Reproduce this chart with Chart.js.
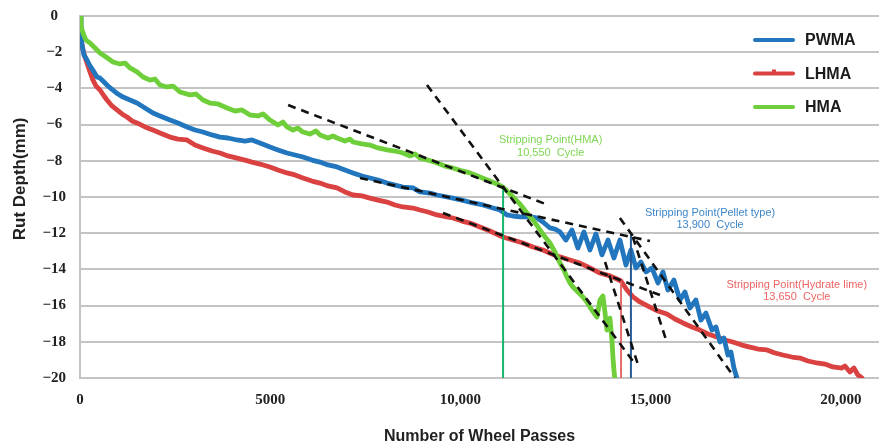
<!DOCTYPE html>
<html><head><meta charset="utf-8">
<script src="https://cdn.jsdelivr.net/npm/chart.js@4.4.1/dist/chart.umd.min.js"></script>
<style>html,body{margin:0;padding:0;background:#fff;}canvas{display:block;}</style>
</head><body>
<canvas id="c" width="881" height="448"></canvas>
<script>
// ---------- data ----------
const seriesNames = ['PWMA', 'LHMA', 'HMA'];
const xTickValues = [0, 5000, 10000, 15000, 20000];
const xTickLabels = ['0', '5000', '10,000', '15,000', '20,000'];
const yTickValues = [0, -2, -4, -6, -8, -10, -12, -14, -16, -18, -20];
const yTickLabels = ['0', '\u22122', '\u22124', '\u22126', '\u22128', '\u221210', '\u221212', '\u221214', '\u221216', '\u221218', '\u221220'];
const xTitle = 'Number of Wheel Passes';
const yTitle = 'Rut Depth(mm)';

const pwmaX = [0,26,53,105,184,263,368,447,526,631,736,867,999,1130,1314,1498,1708,1918,2102,2365,2575,2812,3022,3232,3469,3679,3889,4126,4336,4520,4730,4993,5203,5440,5650,5860,6097,6307,6517,6754,6964,7174,7411,7621,7831,8068,8278,8488,8751,8935,9198,9382,9645,9802,10039,10328,10591,10854,11038,11222,11379,11563,11826,12010,12168,12352,12483,12614,12772,12930,13087,13245,13403,13560,13718,13876,14033,14191,14349,14480,14611,14743,14875,15032,15190,15321,15453,15610,15768,15899,16031,16188,16320,16451,16609,16714,16819,16924,17029,17108,17187,17266];
const pwmaY = [-0.05,-1.05,-1.60,-2.15,-2.43,-2.76,-3.09,-3.37,-3.43,-3.65,-3.87,-4.09,-4.31,-4.48,-4.64,-4.81,-5.08,-5.36,-5.52,-5.75,-5.91,-6.13,-6.30,-6.41,-6.57,-6.69,-6.74,-6.85,-6.91,-6.85,-7.02,-7.24,-7.40,-7.57,-7.68,-7.79,-7.96,-8.07,-8.23,-8.34,-8.51,-8.67,-8.84,-8.95,-9.06,-9.23,-9.34,-9.45,-9.50,-9.72,-9.78,-9.89,-10.00,-10.06,-10.17,-10.33,-10.44,-10.61,-10.72,-10.99,-11.05,-11.10,-11.10,-11.16,-11.38,-11.71,-11.77,-11.93,-12.38,-11.82,-12.82,-11.93,-12.93,-12.04,-13.20,-12.38,-13.37,-12.38,-13.76,-12.93,-13.92,-13.59,-14.14,-13.92,-14.75,-14.14,-15.14,-14.59,-15.69,-15.25,-16.13,-15.69,-16.80,-16.41,-17.35,-17.18,-18.01,-17.79,-18.73,-18.56,-19.45,-20.00];

const lhmaX = [0,13,26,79,131,184,263,342,420,526,631,710,841,972,1104,1235,1367,1498,1708,1918,2102,2365,2575,2812,3022,3232,3469,3679,3889,4126,4336,4520,4730,4993,5203,5440,5650,5860,6097,6307,6517,6754,6964,7174,7411,7621,7831,8068,8278,8488,8751,8935,9145,9382,9645,9802,10039,10249,10512,10775,11116,11379,11642,11905,12168,12404,12614,12877,13140,13403,13666,13928,14112,14217,14375,14533,14717,14980,15190,15426,15637,15847,16084,16294,16504,16740,16951,17161,17397,17608,17818,18054,18265,18475,18711,18922,19132,19368,19579,19789,20026,20104,20236,20341,20446,20551];
const lhmaY = [-0.05,-0.77,-1.22,-1.88,-2.27,-2.60,-3.09,-3.54,-3.87,-4.09,-4.42,-4.64,-4.97,-5.19,-5.41,-5.58,-5.80,-5.91,-6.13,-6.30,-6.46,-6.69,-6.80,-6.85,-7.13,-7.29,-7.46,-7.57,-7.73,-7.85,-7.96,-8.07,-8.18,-8.34,-8.51,-8.67,-8.78,-8.95,-9.12,-9.23,-9.39,-9.50,-9.72,-9.89,-9.94,-10.06,-10.17,-10.28,-10.44,-10.55,-10.61,-10.72,-10.83,-10.99,-11.10,-11.16,-11.33,-11.44,-11.66,-11.88,-12.21,-12.38,-12.54,-12.76,-12.93,-13.15,-13.31,-13.48,-13.65,-13.92,-14.20,-14.36,-14.53,-14.64,-15.14,-15.52,-15.80,-16.08,-16.30,-16.46,-16.74,-16.96,-17.18,-17.35,-17.57,-17.73,-17.90,-18.01,-18.18,-18.29,-18.40,-18.45,-18.62,-18.73,-18.84,-18.90,-19.06,-19.17,-19.23,-19.39,-19.45,-19.34,-19.67,-19.45,-19.83,-20.00];

const hmaX = [0,26,53,79,158,263,394,526,683,867,1051,1183,1314,1498,1656,1840,1971,2102,2286,2444,2628,2891,3048,3232,3416,3627,3863,4073,4257,4468,4678,4809,4993,5203,5335,5440,5598,5729,5860,6044,6202,6307,6517,6649,6754,6964,7096,7174,7411,7621,7831,8068,8278,8488,8672,8804,8935,9145,9382,9592,9802,10039,10249,10512,10775,10959,11116,11248,11379,11563,11747,11905,12089,12246,12352,12483,12614,12719,12798,12877,12956,13087,13219,13324,13403,13508,13587,13666,13744,13797,13850,13902,13928,13981,14007,14033,14060];
const hmaY = [-0.05,-0.50,-0.77,-0.94,-1.33,-1.49,-1.77,-2.04,-2.27,-2.54,-2.65,-2.60,-2.87,-3.09,-3.37,-3.54,-3.48,-3.81,-3.92,-3.87,-4.20,-4.36,-4.31,-4.64,-4.81,-4.86,-5.08,-5.25,-5.19,-5.47,-5.52,-5.41,-5.75,-6.02,-5.86,-6.13,-6.30,-6.19,-6.41,-6.52,-6.35,-6.57,-6.74,-6.63,-6.74,-6.91,-6.80,-6.96,-7.07,-7.13,-7.29,-7.40,-7.46,-7.57,-7.73,-7.62,-7.85,-7.96,-8.12,-8.29,-8.40,-8.56,-8.67,-8.90,-9.12,-9.28,-9.45,-9.72,-10.00,-10.39,-10.88,-11.27,-11.82,-12.27,-12.54,-13.04,-13.65,-14.03,-14.42,-14.75,-14.97,-15.25,-15.52,-15.80,-16.08,-16.41,-16.63,-15.69,-15.47,-16.35,-17.35,-16.91,-16.69,-17.90,-18.84,-19.56,-20.11];

// stripping-point markers (as drawn): HMA, PWMA, LHMA
const stripX = [11120, 14480, 14220];
const stripTopY = [-9.50, -11.99, -14.70];
const stripBottomY = [-20, -20, -20];
const stripText = [['Stripping Point(HMA)', '10,550  Cycle'], ['Stripping Point(Pellet type)', '13,900  Cycle'], ['Stripping Point(Hydrate lime)', '13,650  Cycle']];
const stripTextX = [12370, 16560, 18840];
const stripTextY = [-6.85, -10.88, -14.85];

// tangent (dashed) lines
const tanX1 = [5470, 9120, 7360, 14190, 9540, 14530, 13800];
const tanY1 = [-4.92, -3.81, -8.95, -11.16, -10.88, -12.21, -13.59];
const tanX2 = [12300, 14590, 14980, 17210, 15370, 15430, 14660];
const tanY2 = [-10.44, -19.23, -12.43, -20.00, -15.52, -18.07, -19.23];

// ---------- styles ----------
const seriesColors = ['#2176bd', '#da4141', '#6fcf3a'];
const stripColors = ['#16b46c', '#255c98', '#e46c6c'];
const stripTextColors = ['#7fd654', '#3e86c8', '#ee6464'];

const pts = (xs, ys) => xs.map((v, i) => ({x: v, y: ys[i]}));

const datasets = [];
for (let i = 0; i < tanX1.length; i++) {
  datasets.push({data: [{x: tanX1[i], y: tanY1[i]}, {x: tanX2[i], y: tanY2[i]}],
    borderColor: '#111', borderWidth: 2.6, borderDash: [8, 6], pointRadius: 0, order: 0, tension: 0});
}
for (let i = 0; i < stripX.length; i++) {
  datasets.push({data: [{x: stripX[i], y: stripBottomY[i]}, {x: stripX[i], y: stripTopY[i]}],
    borderColor: stripColors[i], borderWidth: 2, pointRadius: 0, order: 1, tension: 0});
}
const seriesData = [pts(pwmaX, pwmaY), pts(lhmaX, lhmaY), pts(hmaX, hmaY)];
const seriesOrder = [3, 4, 2];
seriesNames.forEach((n, i) => {
  datasets.push({label: n, data: seriesData[i], borderColor: seriesColors[i], borderWidth: 4.8,
    pointRadius: 0, tension: 0, order: seriesOrder[i], borderJoinStyle: 'round', borderCapStyle: 'round'});
});

const overlay = {
  id: 'overlay',
  afterDatasetsDraw(chart) {
    const ctx = chart.ctx, xs = chart.scales.x, ys = chart.scales.y, ca = chart.chartArea;
    ctx.save();
    ctx.font = '11px "Liberation Sans", Arial, sans-serif';
    ctx.textAlign = 'center';
    ctx.textBaseline = 'middle';
    stripText.forEach((lines, i) => {
      ctx.fillStyle = stripTextColors[i];
      const px = xs.getPixelForValue(stripTextX[i]);
      const py = ys.getPixelForValue(stripTextY[i]);
      lines.forEach((t, j) => ctx.fillText(t, px, py + j * 12.5));
    });
    const lx0 = ca.right - 124, lx1 = ca.right - 86, tx = ca.right - 74;
    ctx.font = 'bold 16px "Liberation Sans", Arial, sans-serif';
    ctx.textAlign = 'left';
    seriesNames.forEach((n, i) => {
      const y = ca.top + 24 + i * 33.5;
      ctx.strokeStyle = seriesColors[i];
      ctx.lineWidth = 4;
      ctx.lineCap = 'round';
      ctx.beginPath(); ctx.moveTo(lx0, y); ctx.lineTo(lx1, y); ctx.stroke();
      if (i === 1) { ctx.fillStyle = seriesColors[i]; ctx.fillRect((lx0 + lx1) / 2 - 2, y - 4, 4, 4); }
      ctx.fillStyle = '#1b1b1b';
      ctx.fillText(n, tx, y + 1);
    });
    ctx.translate(20, ca.top + (ca.bottom - ca.top) * 0.45);
    ctx.rotate(-Math.PI / 2);
    ctx.textAlign = 'center';
    ctx.font = 'bold 17px "Liberation Sans", Arial, sans-serif';
    ctx.fillStyle = '#222';
    ctx.fillText(yTitle, 0, 0);
    ctx.restore();
  }
};

new Chart(document.getElementById('c'), {
  type: 'line',
  data: {datasets},
  options: {
    responsive: false,
    animation: false,
    devicePixelRatio: 1,
    layout: {padding: {top: 16, right: 2, left: 0, bottom: 0}},
    plugins: {legend: {display: false}, tooltip: {enabled: false}},
    scales: {
      x: {
        type: 'linear', min: 0, max: 21000,
        afterBuildTicks: a => { a.ticks = xTickValues.map(v => ({value: v})); },
        afterFit: a => { a.height = 70; a.paddingLeft = 0; a.paddingRight = 0; },
        ticks: {
          callback: (v) => xTickLabels[xTickValues.indexOf(v)],
          font: {family: '"Liberation Serif", "Times New Roman", serif', weight: 'bold', size: 15},
          color: '#222', padding: 13, maxRotation: 0, autoSkip: false
        },
        grid: {display: false, drawTicks: false},
        border: {display: false},
        title: {display: true, text: xTitle, color: '#222',
          font: {family: '"Liberation Sans", Arial, sans-serif', weight: 'bold', size: 16},
          padding: {top: 4, bottom: 2}}
      },
      y: {
        type: 'linear', min: -20, max: 0,
        afterBuildTicks: a => { a.ticks = yTickValues.map(v => ({value: v})); },
        afterFit: a => { a.width = 80; a.paddingTop = 0; a.paddingBottom = 0; },
        ticks: {
          callback: (v) => yTickLabels[yTickValues.indexOf(v)],
          font: {family: '"Liberation Serif", "Times New Roman", serif', weight: 'bold', size: 15},
          color: '#222', padding: 14, crossAlign: 'center', autoSkip: false
        },
        grid: {color: '#c4c4c4', lineWidth: 2, drawTicks: false},
        border: {display: true, color: '#c4c4c4', width: 2}
      }
    }
  },
  plugins: [overlay]
});
</script>
</body></html>
